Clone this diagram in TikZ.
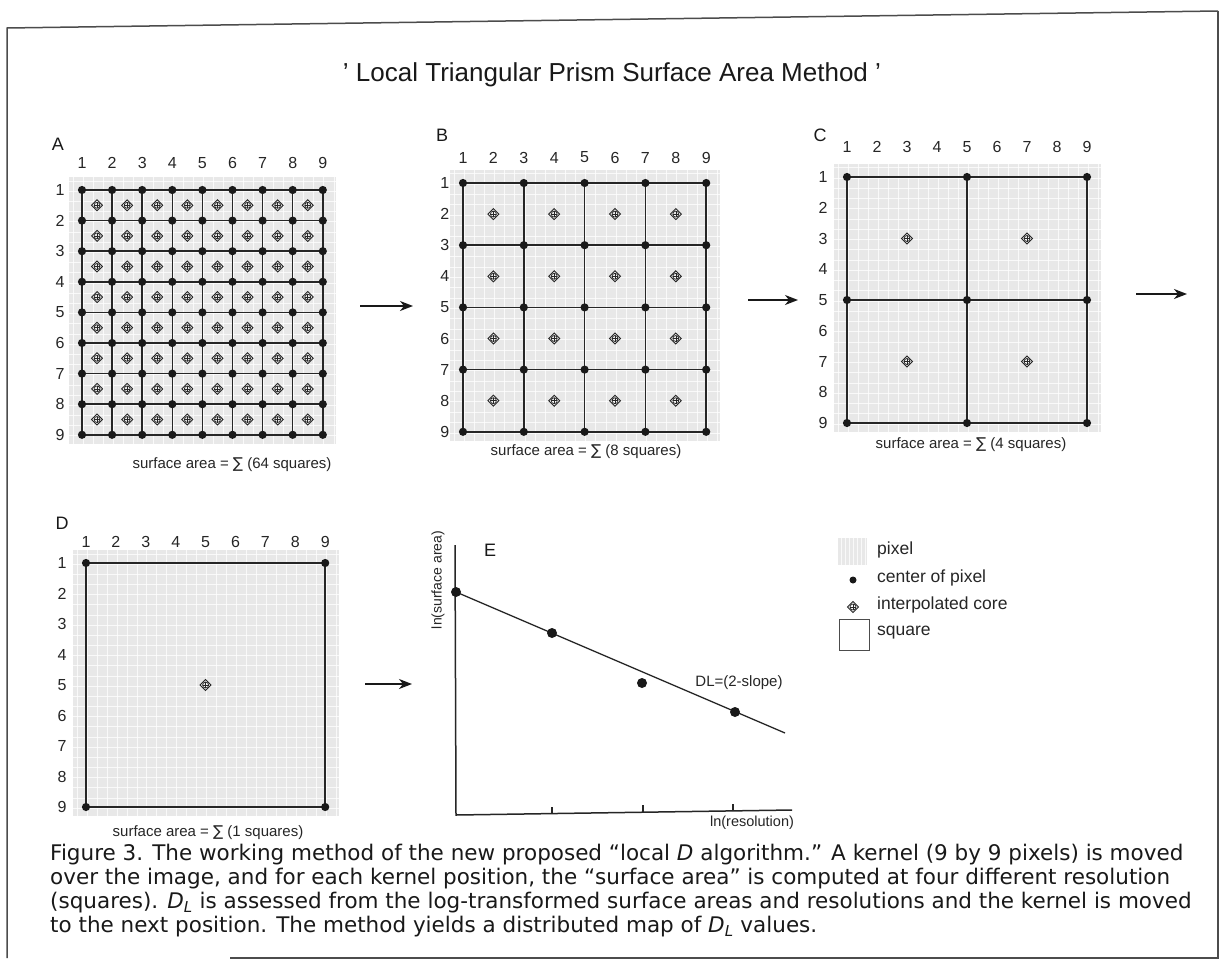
\documentclass[tikz,border=0pt]{standalone}
\usepackage{fontspec}
\setmainfont{Liberation Sans}
\newfontfamily\symfont{DejaVu Sans}
\newfontfamily\capfont[Ligatures=TeX]{DejaVu Sans}
\usetikzlibrary{arrows.meta}
\tikzset{
  num/.style={font=\fontsize{16}{18}\selectfont, text=black!85, inner sep=0pt},
  letter/.style={font=\fontsize{18}{20}\selectfont, text=black!90, inner sep=0pt},
  pcap/.style={font=\fontsize{15}{17}\selectfont, text=black!85, inner sep=0pt},
  legtext/.style={font=\fontsize{17.5}{20}\selectfont, text=black!85, inner sep=0pt, anchor=west},
  capline/.style={font=\capfont\fontsize{21.5}{24}\selectfont, anchor=west, inner sep=0pt, text=black!90},
  gridline/.style={line width=1.5pt, black!85},
  pixfill/.style={fill=black!9},
  texture/.style={white, line width=0.6pt, opacity=0.75},
  flow/.style={line width=1.6pt, black!90, -{Stealth[length=13pt,width=10pt,inset=4pt]}},
  axis/.style={line width=1.5pt, black!85},
  core/.pic={
    \draw[line width=0.9pt, black!85] (0pt,5.5pt)--(5.5pt,0pt)--(0pt,-5.5pt)--(-5.5pt,0pt)--cycle;
    \draw[line width=0.7pt, black!85] (0pt,0pt) circle (3pt);
    \draw[line width=0.6pt, black!85] (-3pt,0pt)--(3pt,0pt) (0pt,-3pt)--(0pt,3pt);
  },
}
% #1 name #2 x0 #3 y0 #4 dx #5 dy #6 step #7 core list #8 col label offset #9 row label offset
\newcommand\kpanel[9]{%
\begin{scope}[shift={(#2,#3)}, x=#4pt, y=-#5pt]
  \fill[pixfill] (-0.42,-0.42) rectangle (8.45,8.3);
  \foreach \t in {-0.3,0.0333,...,8.4} \draw[texture] (\t,-0.42) -- (\t,8.3);
  \foreach \t in {-0.3,0.0333,...,8.3} \draw[texture] (-0.42,\t) -- (8.45,\t);
  \foreach \i in {0,#6,...,8} {\draw[gridline] (\i,0) -- (\i,8); \draw[gridline] (0,\i) -- (8,\i);}
  \foreach \i in {0,#6,...,8} \foreach \j in {0,#6,...,8} \fill[black!90] (\i,\j) circle (4.1pt);
  \foreach \i in {#7} \foreach \j in {#7} \pic at (\i,\j) {core};
  \foreach \k in {1,...,9} {\node[num] (#1c\k) at (\k-1,-#8) {\k}; \node[num] (#1r\k) at (-#9,\k-1) {\k};}
\end{scope}}

\begin{document}
\begin{tikzpicture}[x=1pt,y=-1pt]
\useasboundingbox (0,0) rectangle (1220,969);
\fill[white] (0,0) rectangle (1220,969);

% frame
\draw[line width=1.5pt, black!70] (1218,11) -- (7,28) -- (7,958);
\draw[line width=1.5pt, black!70] (1218,11) -- (1218,958) -- (230,958);

% title
\node[font=\fontsize{26}{30}\selectfont, text=black!90, inner sep=0pt] (title) at (612,75) {' Local Triangular Prism Surface Area Method '};

% panels
\kpanel{A}{82}{190}{30.1}{30.6}{1}{0.5,1.5,...,7.5}{0.88}{0.73}
\kpanel{B}{463}{183}{30.4}{31.1}{2}{1,3,...,7}{0.82}{0.6}
\kpanel{C}{847}{177}{30.0}{30.75}{4}{2,6}{0.98}{0.8}
\kpanel{D}{86}{563}{29.9}{30.5}{8}{4}{0.69}{0.8}

\node[letter] (labA) at (58,144) {A};
\node[letter] (labB) at (442,135) {B};
\node[letter] (labC) at (820,135) {C};
\node[letter] (labD) at (62,523) {D};
\node[letter] (labE) at (490,550) {E};

\node[pcap] (capA) at (232,465) {surface area = {\symfont ∑} (64 squares)};
\node[pcap] (capB) at (586,452) {surface area = {\symfont ∑} (8 squares)};
\node[pcap] (capC) at (971,445) {surface area = {\symfont ∑} (4 squares)};
\node[pcap] (capD) at (208,833) {surface area = {\symfont ∑} (1 squares)};

% arrows between panels
\coordinate (ab1) at (360,306); \coordinate (ab2) at (413,306);
\coordinate (bc1) at (748,300); \coordinate (bc2) at (798,300);
\coordinate (cn1) at (1136,294); \coordinate (cn2) at (1187,294);
\coordinate (de1) at (365,684); \coordinate (de2) at (412,684);
\draw[flow] (ab1) -- (ab2);
\draw[flow] (bc1) -- (bc2);
\draw[flow] (cn1) -- (cn2);
\draw[flow] (de1) -- (de2);

% panel E
\coordinate (Ey) at (455,545);
\coordinate (Eo) at (456,815);
\coordinate (Ex) at (792,810);
\draw[axis] (Ey) -- (Eo) -- (Ex);
\foreach \tx/\ty in {552/813.5, 643/812, 733/811} \draw[line width=1.2pt, black!85] (\tx,\ty) -- (\tx,\ty-7);
\coordinate (p1) at (456,592);
\coordinate (p2) at (552,633);
\coordinate (p3) at (642,683);
\coordinate (p4) at (735,712);
\coordinate (pend) at (785,733);
\draw[line width=1.3pt, black!85] (p1) -- (pend);
\foreach \p in {p1,p2,p3,p4} \fill[black!90] (\p) circle (5pt);
\node[font=\fontsize{15}{17}\selectfont, text=black!85, inner sep=0pt] (dl) at (739,683) {DL=(2-slope)};
\node[font=\fontsize{14.5}{16}\selectfont, text=black!85, inner sep=0pt] (xl) at (752,823) {ln(resolution)};
\node[font=\fontsize{14}{16}\selectfont, text=black!85, inner sep=0pt, rotate=90] (yl) at (438,580) {ln(surface area)};

% legend
\fill[pixfill] (838,538) rectangle (867,565);
\foreach \t in {841,845,...,865} \draw[texture] (\t,538) -- (\t,565);
\node[legtext] (lg1) at (877,550) {pixel};
\fill[black!90] (853,580) circle (3.5pt);
\node[legtext] (lg2) at (877,578) {center of pixel};
\pic at (853,607) {core};
\node[legtext] (lg3) at (877,605) {interpolated core};
\draw[line width=1pt, black!70] (839,619) rectangle (869,650);
\node[legtext] (lg4) at (877,633) {square};

% caption
\node[capline] (cap1) at (50,855) {Figure 3. The working method of the new proposed ``local \textit{D} algorithm.'' A kernel (9 by 9 pixels) is moved};
\node[capline] (cap2) at (50,879) {over the image, and for each kernel position, the ``surface area'' is computed at four different resolution};
\node[capline] (cap3) at (50,903) {(squares). \textit{D}\textsubscript{\textit{L}} is assessed from the log-transformed surface areas and resolutions and the kernel is moved};
\node[capline] (cap4) at (50,927) {to the next position. The method yields a distributed map of \textit{D}\textsubscript{\textit{L}} values.};
\end{tikzpicture}
\end{document}
